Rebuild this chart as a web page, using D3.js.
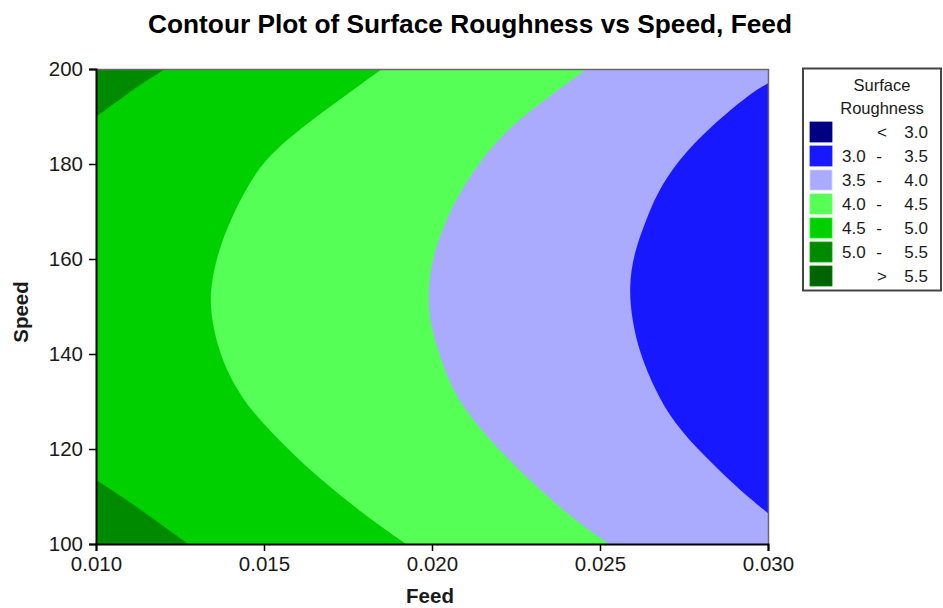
<!DOCTYPE html>
<html>
<head>
<meta charset="utf-8">
<script src="https://cdn.jsdelivr.net/npm/d3@7"></script>
<style>
  html, body { margin: 0; padding: 0; background: #fff; }
  svg { display: block; }
</style>
</head>
<body>
<svg id="chart" width="943" height="608"></svg>
<script>
// ---------------- data ----------------
const title = "Contour Plot of Surface Roughness vs Speed, Feed";
const xLabel = "Feed";
const yLabel = "Speed";
const feedTicks = [0.010, 0.015, 0.020, 0.025, 0.030];
const speedTicks = [100, 120, 140, 160, 180, 200];
const feedDomain = [0.010, 0.030];
const speedDomain = [100, 200];

const legendTitle = ["Surface", "Roughness"];
const legendLow  = ["",    "3.0", "3.5", "4.0", "4.5", "5.0", ""];
const legendSep  = ["<",   "-",   "-",   "-",   "-",   "-",   ">"];
const legendHigh = ["3.0", "3.5", "4.0", "4.5", "5.0", "5.5", "5.5"];
const legendColors = ["#000080", "#1818FF", "#AAAAFF", "#55FF55", "#00D000", "#008A00", "#006500"];

// contour boundaries as [speed, feed] pairs
const contour50Top = [[200, 0.01205], [198.4, 0.01170], [194.9, 0.01095], [189.9, 0.0100]];
const contour50Bottom = [[113.5, 0.0100], [107.9, 0.01121], [100, 0.01274]];
const contour45 = [[200, 0.01851], [194.9, 0.01752], [187.9, 0.01615], [180.8, 0.01498], [173.9, 0.01440],
  [168.2, 0.01400], [161.3, 0.01362], [154.2, 0.01341], [149.3, 0.01341], [143.6, 0.01354],
  [136.6, 0.01387], [131.0, 0.01433], [126.8, 0.01478], [118.4, 0.01592], [111.4, 0.01705],
  [104.4, 0.01832], [100, 0.01923]];
const contour40 = [[200, 0.02461], [194.9, 0.02362], [187.9, 0.02231], [180.8, 0.02145], [173.9, 0.02082],
  [168.2, 0.02042], [161.3, 0.02005], [154.2, 0.01988], [147.2, 0.01991], [140.2, 0.02020],
  [132.4, 0.02060], [125.4, 0.02128], [118.4, 0.02219], [111.4, 0.02321], [104.4, 0.02436],
  [100, 0.02527]];
const contour35 = [[197.0, 0.0300], [194.9, 0.02949], [187.9, 0.02829], [180.8, 0.02732], [173.9, 0.02670],
  [168.2, 0.02637], [161.3, 0.02601], [154.2, 0.02586], [147.2, 0.02595], [140.2, 0.02618],
  [132.4, 0.02664], [125.4, 0.02720], [118.4, 0.02812], [111.4, 0.02915], [106.5, 0.0300]];

// ---------------- layout ----------------
const svg = d3.select("#chart");
const L = 96, R = 768, T = 69, B = 544;
const x = d3.scaleLinear().domain(feedDomain).range([L, R]);
const y = d3.scaleLinear().domain(speedDomain).range([B, T]);
const tickFont = "'Liberation Sans', Arial, sans-serif";

svg.append("defs").append("clipPath").attr("id", "plotClip")
  .append("rect").attr("x", L).attr("y", T).attr("width", R - L).attr("height", B - T);

const plot = svg.append("g").attr("clip-path", "url(#plotClip)");

// base band 4.5 - 5.0
plot.append("rect").attr("x", L).attr("y", T).attr("width", R - L).attr("height", B - T)
  .attr("fill", legendColors[4]);

// corner bands 5.0 - 5.5 (left of the 5.0 contour)
const leftArea = d3.area().curve(d3.curveBasis)
  .y(d => y(d[0])).x0(x(feedDomain[0]) - 2).x1(d => x(d[1]));
[contour50Top, contour50Bottom].forEach(c => {
  plot.append("path").datum(c).attr("d", leftArea).attr("fill", legendColors[5]);
});

// bands to the right of each contour
const rightArea = d3.area().curve(d3.curveBasis)
  .y(d => y(d[0])).x0(d => x(d[1])).x1(x(feedDomain[1]) + 2);
[[contour45, legendColors[3]], [contour40, legendColors[2]], [contour35, legendColors[1]]].forEach(([c, col]) => {
  plot.append("path").datum(c).attr("d", rightArea).attr("fill", col);
});

// frame (top / right)
svg.append("path")
  .attr("d", `M${L},${T + 0.5}H${R + 0.5}V${B}`)
  .attr("fill", "none").attr("stroke", "#6a6a6a").attr("stroke-width", 1.5);

// axes
const xAxis = d3.axisBottom(x).tickValues(feedTicks).tickFormat(d3.format(".3f")).tickSizeOuter(0).tickSize(7);
const gx = svg.append("g").attr("transform", `translate(0,${B})`).call(xAxis);
const yAxis = d3.axisLeft(y).tickValues(speedTicks).tickFormat(d3.format("d")).tickSizeOuter(0).tickSize(7);
const gy = svg.append("g").attr("transform", `translate(${L},0)`).call(yAxis);
[gx, gy].forEach(g => {
  g.select(".domain").attr("stroke", "#000").attr("stroke-width", 2);
  g.selectAll(".tick line").attr("stroke", "#000").attr("stroke-width", 1.5);
  g.selectAll(".tick text").attr("fill", "#1a1a1a")
    .style("font-family", tickFont).style("font-size", "20.5px");
});
gx.selectAll(".tick text").attr("dy", "0.75em").attr("y", 12);
gy.selectAll(".tick text").attr("x", -13);

// title and axis titles
svg.append("text").attr("x", 470).attr("y", 33).attr("text-anchor", "middle")
  .attr("textLength", 644).attr("lengthAdjust", "spacingAndGlyphs")
  .style("font-family", "'Liberation Sans', Arial, sans-serif").style("font-weight", "bold")
  .style("font-size", "26px").attr("fill", "#000").text(title);

svg.append("text").attr("x", 430).attr("y", 603).attr("text-anchor", "middle")
  .style("font-family", "'Liberation Sans', Arial, sans-serif").style("font-weight", "bold")
  .style("font-size", "20.5px").attr("fill", "#1a1a1a").text(xLabel);

svg.append("text").attr("transform", "translate(28,312) rotate(-90)").attr("text-anchor", "middle")
  .style("font-family", "'Liberation Sans', Arial, sans-serif").style("font-weight", "bold")
  .style("font-size", "20.5px").attr("fill", "#1a1a1a").text(yLabel);

// legend
const lg = svg.append("g");
lg.append("rect").attr("x", 803).attr("y", 68.5).attr("width", 138).attr("height", 222)
  .attr("fill", "#fff").attr("stroke", "#444").attr("stroke-width", 2);
legendTitle.forEach((t, i) => {
  lg.append("text").attr("x", 882).attr("y", 91 + i * 23).attr("text-anchor", "middle")
    .style("font-family", tickFont).style("font-size", "16.5px").attr("fill", "#1a1a1a").text(t);
});
legendColors.forEach((c, i) => {
  const cy = 132 + i * 24;
  lg.append("rect").attr("x", 810).attr("y", cy - 10).attr("width", 22).attr("height", 20)
    .attr("fill", c).attr("stroke", d3.color(c).brighter(0.6)).attr("stroke-width", 0.8);
  const ty = cy + 6;
  const tstyle = s => s.style("font-family", tickFont).style("font-size", "17px").attr("fill", "#1a1a1a");
  if (legendLow[i]) tstyle(lg.append("text").attr("x", 842).attr("y", ty).text(legendLow[i]));
  tstyle(lg.append("text").attr("x", legendLow[i] ? 879 : 882).attr("y", ty).attr("text-anchor", "middle").text(legendSep[i]));
  tstyle(lg.append("text").attr("x", 928).attr("y", ty).attr("text-anchor", "end").text(legendHigh[i]));
});
</script>
</body>
</html>
